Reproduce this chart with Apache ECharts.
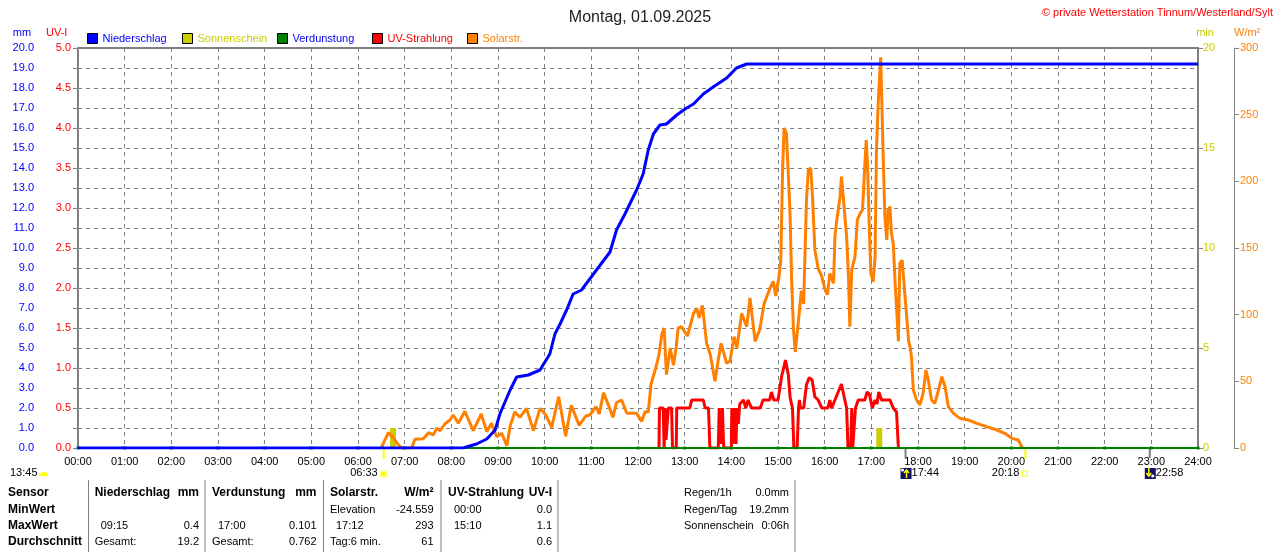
<!DOCTYPE html>
<html>
<head>
<meta charset="utf-8">
<script src="https://cdn.jsdelivr.net/npm/echarts@6.0.0/dist/echarts.min.js"></script>
<style>
  html, body { margin: 0; padding: 0; background: #fff; }
  #chart { width: 1280px; height: 552px; }
</style>
</head>
<body>
<div id="chart"></div>
<script>
// Tagesverlauf 01.09.2025, x = Stunde des Tages
const hourLabels = ['00:00','01:00','02:00','03:00','04:00','05:00','06:00','07:00','08:00','09:00','10:00','11:00','12:00',
  '13:00','14:00','15:00','16:00','17:00','18:00','19:00','20:00','21:00','22:00','23:00','24:00'];

// Niederschlag kumuliert (mm)
const rain = [[0,0],[8.25,0],[8.27,0.1],[8.54,0.2],[8.76,0.45],[8.94,0.9],[9.04,1.7],[9.26,2.9],[9.4,3.55],[9.65,3.65],
  [9.9,3.9],[10.11,4.7],[10.22,5.7],[10.33,6.2],[10.47,6.9],[10.61,7.7],[10.79,7.9],[11.11,8.9],[11.4,9.8],[11.54,10.9],
  [11.72,11.7],[11.97,12.9],[12.11,13.7],[12.22,14.9],[12.33,15.7],[12.47,16.15],[12.61,16.2],[12.83,16.65],[13.04,17.0],
  [13.19,17.2],[13.4,17.7],[13.61,18.05],[13.9,18.5],[14.11,19.0],[14.33,19.2],[24,19.2]];

// Verdunstung (mm), stündlich
const evaporation = [[0,0],[1,0],[2,0],[3,0],[4,0],[5,0],[6,0],[7,0],[8,0],[9,0],[10,0],[11,0],[12,0],
  [13,0],[14,0],[15,0],[16,0],[17,0],[18,0],[19,0],[20,0],[21,0],[22,0],[23,0],[24,0]];

// Sonnenschein (min)
const sunshine = [[6.75,1],[17.17,1]];

// UV-Index
const uv = [[12.45,0],[12.46,0.5],[12.54,0.5],[12.56,0],[12.58,0.5],[12.6,0.1],[12.65,0.5],[12.72,0.5],[12.74,0],
  [12.82,0],[12.83,0.5],[13.11,0.5],[13.15,0.6],[13.4,0.6],[13.44,0.5],[13.51,0.5],[13.54,0],[13.72,0],[13.74,0.5],
  [13.77,0.5],[13.79,0.05],[13.81,0.5],[13.83,0.1],[13.84,0],[14.0,0],[14.01,0.5],[14.03,0.05],[14.06,0.5],[14.09,0.5],
  [14.1,0.05],[14.12,0.5],[14.15,0.3],[14.18,0.55],[14.26,0.6],[14.31,0.5],[14.36,0.6],[14.43,0.5],[14.62,0.5],[14.68,0.6],
  [14.82,0.6],[14.86,0.7],[14.91,0.6],[15.0,0.6],[15.08,0.9],[15.16,1.1],[15.22,0.92],[15.26,0.63],[15.31,0.5],[15.34,0],
  [15.41,0],[15.44,0.5],[15.46,0.6],[15.48,0.5],[15.55,0.5],[15.61,0.79],[15.67,0.88],[15.73,0.85],[15.79,0.64],[15.86,0.6],
  [15.94,0.5],[16.07,0.5],[16.11,0.6],[16.15,0.5],[16.22,0.6],[16.29,0.7],[16.36,0.8],[16.41,0.66],[16.47,0.5],[16.5,0],
  [16.56,0],[16.58,0.5],[16.6,0],[16.64,0],[16.66,0.5],[16.72,0.6],[16.86,0.6],[16.91,0.7],[16.96,0.67],[17.02,0.5],
  [17.08,0.6],[17.12,0.55],[17.16,0.7],[17.22,0.6],[17.4,0.6],[17.47,0.5],[17.54,0.45],[17.58,0]];

// Solarstrahlung (W/m²)
const solar = [[6.5,0],[6.55,4],[6.65,11.5],[6.75,8],[6.85,3],[6.94,0],[7.15,0],[7.22,6.5],[7.4,7],[7.51,11.5],[7.61,9.75],
  [7.69,14.75],[7.76,13],[7.86,18],[7.97,21],[8.04,24.75],[8.15,18.5],[8.29,27.5],[8.47,13],[8.64,25.5],[8.76,12.25],
  [8.86,18.5],[8.97,8.5],[9.08,11],[9.19,1.5],[9.26,16.5],[9.36,27],[9.47,23],[9.61,29.75],[9.76,13],[9.9,29.75],[10.02,25],
  [10.15,15.5],[10.3,38.5],[10.45,8.75],[10.57,32],[10.74,17],[10.88,24],[10.97,24.75],[11.1,31],[11.17,25.5],[11.26,41.5],
  [11.37,32],[11.46,23],[11.54,34],[11.65,36],[11.76,26],[11.97,26],[12.08,20],[12.15,27.25],[12.22,27],[12.28,48],[12.38,60],
  [12.45,70],[12.51,85],[12.56,90],[12.61,55],[12.69,75],[12.76,62],[12.82,76],[12.86,90],[12.93,91],[13.06,84],[13.19,101],
  [13.26,104.75],[13.31,97.5],[13.38,107],[13.47,78.5],[13.55,70],[13.65,50],[13.72,66],[13.78,78.5],[13.9,63.5],[13.97,65],
  [14.06,83.5],[14.12,75],[14.22,101],[14.33,91],[14.4,112.5],[14.51,80],[14.61,89],[14.7,108],[14.83,120],[14.9,125],
  [14.95,114],[15.02,128],[15.06,141],[15.1,211],[15.13,240],[15.18,236],[15.22,206],[15.26,173.5],[15.29,128.5],[15.33,90],
  [15.37,72],[15.44,96],[15.5,118],[15.55,108],[15.61,186],[15.65,208.5],[15.7,210],[15.74,188.5],[15.79,148.5],[15.86,134.75],
  [15.94,128.5],[16.01,118.5],[16.06,115],[16.11,131],[16.19,123.5],[16.22,158.5],[16.26,171],[16.33,188.5],[16.36,203.5],
  [16.41,183.5],[16.47,158.5],[16.51,128.5],[16.54,91],[16.58,133.5],[16.65,143.5],[16.7,171],[16.76,176],[16.81,178.5],
  [16.84,198.5],[16.89,231],[16.92,211],[16.96,161],[16.99,131],[17.04,124.75],[17.08,143.5],[17.11,223.5],[17.15,261],
  [17.2,293],[17.22,266],[17.26,211],[17.29,173.5],[17.33,156],[17.36,178.5],[17.4,181],[17.43,161],[17.47,153.5],[17.51,123.5],
  [17.54,106],[17.58,80],[17.61,138.5],[17.66,141],[17.7,123.5],[17.74,106],[17.8,80],[17.83,76],[17.86,68.5],[17.9,43.5],
  [17.97,36],[18.04,32.25],[18.11,41],[18.17,58.5],[18.22,51],[18.29,36],[18.36,33.5],[18.44,43.5],[18.51,53.5],[18.58,46],
  [18.65,31],[18.76,26],[18.9,22.25],[19.08,21],[19.26,18.5],[19.47,16],[19.69,13.5],[19.86,11],[20.01,7.25],[20.15,6],
  [20.22,1],[20.25,0]];

// Sonne / Mond
const sunRise = ['06:33', 6.55];
const sunSet = ['20:18', 20.3];
const moonRise = ['17:44', 17.733];
const moonSet = ['22:58', 22.967];
const dayLength = '13:45';

// Legende
const legendNames = ['Niederschlag', 'Sonnenschein', 'Verdunstung', 'UV-Strahlung', 'Solarstr.'];
const legendColors = ['#0000ff', '#cccc00', '#0000ff', '#ff0000', '#ff8000'];

// Tabelle unten
const rowNames = ['Sensor', 'MinWert', 'MaxWert', 'Durchschnitt'];
const tableCols = [
  { head: ['Niederschlag', 'mm'], min: ['', ''], max: ['09:15', '0.4'], avg: ['Gesamt:', '19.2'] },
  { head: ['Verdunstung', 'mm'], min: ['', ''], max: ['17:00', '0.101'], avg: ['Gesamt:', '0.762'] },
  { head: ['Solarstr.', 'W/m²'], min: ['Elevation', '-24.559'], max: ['17:12', '293'], avg: ['Tag:6 min.', '61'] },
  { head: ['UV-Strahlung', 'UV-I'], min: ['00:00', '0.0'], max: ['15:10', '1.1'], avg: ['', '0.6'] }
];
const summary = [['Regen/1h', '0.0mm'], ['Regen/Tag', '19.2mm'], ['Sonnenschein', '0:06h']];

const FONT = 'Liberation Sans, Arial, sans-serif';
const chart = echarts.init(document.getElementById('chart'));

chart.setOption({
  animation: false,
  backgroundColor: '#fff',
  textStyle: { fontFamily: FONT },
  title: [
    { text: 'Montag, 01.09.2025', left: 'center', top: 5,
      textStyle: { fontSize: 16, fontWeight: 'normal', color: '#222', fontFamily: FONT } },
    { text: '© private Wetterstation Tinnum/Westerland/Sylt', right: 2, top: 2,
      textStyle: { fontSize: 11, fontWeight: 'normal', color: '#ff0000', fontFamily: FONT } }
  ],
  legend: legendNames.map((n, i) => ({
    left: 87 + i * 95, top: 33, padding: 0, itemWidth: 10, itemHeight: 10, icon: 'rect',
    selectedMode: false,
    itemStyle: { borderColor: '#000', borderWidth: 1 },
    textStyle: { fontSize: 11, color: legendColors[i], fontFamily: FONT },
    data: [n]
  })),
  grid: { left: 78, right: 82, top: 48, bottom: 104, show: true, borderColor: '#808080', borderWidth: 2 },
  xAxis: {
    type: 'value', min: 0, max: 24, interval: 1,
    axisLine: { show: false }, axisTick: { show: false },
    axisLabel: { color: '#000', fontSize: 11, margin: 8, formatter: v => hourLabels[v] },
    splitLine: { show: true, lineStyle: { color: '#808080', type: [4, 4], width: 1 } }
  },
  yAxis: [
    { type: 'value', min: 0, max: 20, interval: 1, position: 'left', offset: 37,
      axisLine: { show: true, lineStyle: { color: '#808080' } },
      axisTick: { show: true, length: 5, lineStyle: { color: '#808080' } },
      axisLabel: { color: '#0000ff', fontSize: 11, margin: 7, formatter: v => v.toFixed(1) },
      splitLine: { show: true, lineStyle: { color: '#808080', type: [4, 4], width: 1 } } },
    { type: 'value', min: 0, max: 5, interval: 0.5, position: 'left',
      axisLine: { show: true, lineStyle: { color: '#808080', width: 2 } },
      axisTick: { show: true, length: 5, lineStyle: { color: '#808080' } },
      axisLabel: { color: '#ff0000', fontSize: 11, margin: 7, formatter: v => v.toFixed(1) },
      splitLine: { show: false } },
    { type: 'value', min: 0, max: 20, interval: 5, position: 'right',
      axisLine: { show: true, lineStyle: { color: '#808080', width: 2 } },
      axisTick: { show: true, length: 5, lineStyle: { color: '#808080' } },
      axisLabel: { color: '#cccc00', fontSize: 11, margin: 5 },
      splitLine: { show: false } },
    { type: 'value', min: 0, max: 300, interval: 50, position: 'right', offset: 36,
      axisLine: { show: true, lineStyle: { color: '#808080' } },
      axisTick: { show: true, length: 5, lineStyle: { color: '#808080' } },
      axisLabel: { color: '#ff8000', fontSize: 11, margin: 6 },
      splitLine: { show: false } }
  ],
  series: [
    { name: 'Sonnenschein', type: 'bar', yAxisIndex: 2, data: sunshine, barWidth: 6,
      itemStyle: { color: '#cccc00' }, z: 1 },
    { name: 'Solarstr.', type: 'line', yAxisIndex: 3, data: solar, showSymbol: false,
      lineStyle: { color: '#ff8000', width: 3 }, itemStyle: { color: '#ff8000' }, z: 2 },
    { name: 'UV-Strahlung', type: 'line', yAxisIndex: 1, data: uv, showSymbol: false,
      lineStyle: { color: '#ff0000', width: 3 }, itemStyle: { color: '#ff0000' }, z: 3 },
    { name: 'Verdunstung', type: 'line', yAxisIndex: 0, data: evaporation, symbol: 'rect', symbolSize: 3,
      showSymbol: true, lineStyle: { color: '#008000', width: 2 }, itemStyle: { color: '#008000' }, z: 4 },
    { name: 'Niederschlag', type: 'line', yAxisIndex: 0, data: rain, showSymbol: false,
      lineStyle: { color: '#0000ff', width: 3 }, itemStyle: { color: '#0000ff' }, z: 5 }
  ]
});

// Achsennamen, Sonne/Mond-Markierungen und Tabelle
const g = [];
const txt = (x, y, text, color, opts) => g.push({
  type: 'text', x: x, y: y,
  style: Object.assign({ text: text, fill: color || '#000', font: '11px ' + FONT, verticalAlign: 'middle', align: 'left' }, opts || {})
});

txt(22, 33, 'mm', '#0000ff', { align: 'center' });
txt(46, 33, 'UV-I', '#ff0000');
txt(1205, 33, 'min', '#cccc00', { align: 'center' });
txt(1234, 33, 'W/m²', '#ff8000');

const y0 = chart.convertToPixel({ yAxisIndex: 0 }, 0);
const yt = y0 + 25;
const xp = v => chart.convertToPixel({ xAxisIndex: 0 }, v);

// Tageslänge
txt(10, yt, dayLength);
g.push({ type: 'sector', shape: { cx: 44, cy: yt + 3, r0: 0, r: 4, startAngle: Math.PI, endAngle: 2 * Math.PI }, style: { fill: '#ffff00' } });

// Sonnenaufgang
let x = xp(sunRise[1]);
g.push({ type: 'line', shape: { x1: x, y1: y0, x2: x, y2: y0 + 11 }, style: { stroke: '#ffff00', lineWidth: 2 } });
txt(x - 6, yt, sunRise[0], '#000', { align: 'right' });
g.push({ type: 'circle', shape: { cx: x, cy: yt + 1, r: 3.5 }, style: { fill: '#ffff00', stroke: '#ffffa8', lineWidth: 2 } });

// Sonnenuntergang
x = xp(sunSet[1]);
g.push({ type: 'line', shape: { x1: x, y1: y0, x2: x, y2: y0 + 11 }, style: { stroke: '#ffff00', lineWidth: 2 } });
txt(x - 6, yt, sunSet[0], '#000', { align: 'right' });
g.push({ type: 'rect', shape: { x: x - 3, y: yt - 2, width: 5, height: 5 }, style: { fill: 'none', stroke: '#ffff00', lineWidth: 1 } });

// Mondaufgang / -untergang
const moonIcon = (xc, up) => {
  g.push({ type: 'rect', shape: { x: xc - 5, y: yt - 5, width: 11, height: 11 }, style: { fill: '#10106a' } });
  g.push({ type: 'circle', shape: { cx: up ? xc - 3 : xc + 3, cy: up ? yt - 3 : yt + 3, r: 1.6 }, style: { fill: '#fff' } });
  const a = up ? [[xc + 1, yt + 5], [xc + 1, yt - 3]] : [[xc - 1, yt - 5], [xc - 1, yt + 3]];
  g.push({ type: 'polyline', shape: { points: a }, style: { stroke: '#ffff00', lineWidth: 1.5 } });
  const h = up ? [[xc - 1.5, yt], [xc + 1, yt - 3], [xc + 3.5, yt]] : [[xc - 3.5, yt], [xc - 1, yt + 3], [xc + 1.5, yt]];
  g.push({ type: 'polyline', shape: { points: h }, style: { stroke: '#ffff00', lineWidth: 1.5 } });
};
[[moonRise, true], [moonSet, false]].forEach(([m, up]) => {
  const xm = xp(m[1]);
  g.push({ type: 'line', shape: { x1: xm, y1: y0, x2: xm, y2: y0 + 10 }, style: { stroke: '#808080', lineWidth: 2 } });
  moonIcon(xm, up);
  txt(xm + 6, yt, m[0]);
});

// Tabelle
const rowY = [493, 510, 526, 542];
const colX = [[94.7, 199], [212, 316.5], [330, 433.5], [448, 552]];
const sepX = [88.5, 205, 323.5, 441, 558, 795];
sepX.forEach(sx => g.push({ type: 'line', shape: { x1: sx, y1: 480, x2: sx, y2: 552 }, style: { stroke: '#808080', lineWidth: 1 } }));
const bold = 'bold 12px ' + FONT;
rowNames.forEach((n, i) => txt(8, rowY[i], n, '#000', { font: bold }));
tableCols.forEach((c, i) => {
  const [lx, rx] = colX[i];
  txt(lx, rowY[0], c.head[0], '#000', { font: bold });
  txt(rx, rowY[0], c.head[1], '#000', { font: bold, align: 'right' });
  [c.min, c.max, c.avg].forEach((r, j) => {
    const isTime = /^\d\d:\d\d$/.test(r[0]);
    txt(isTime ? lx + 6 : lx, rowY[j + 1], r[0]);
    txt(rx, rowY[j + 1], r[1], '#000', { align: 'right' });
  });
});
summary.forEach((r, i) => {
  txt(684, rowY[i], r[0]);
  txt(789, rowY[i], r[1], '#000', { align: 'right' });
});

chart.setOption({ graphic: g });
</script>
</body>
</html>
